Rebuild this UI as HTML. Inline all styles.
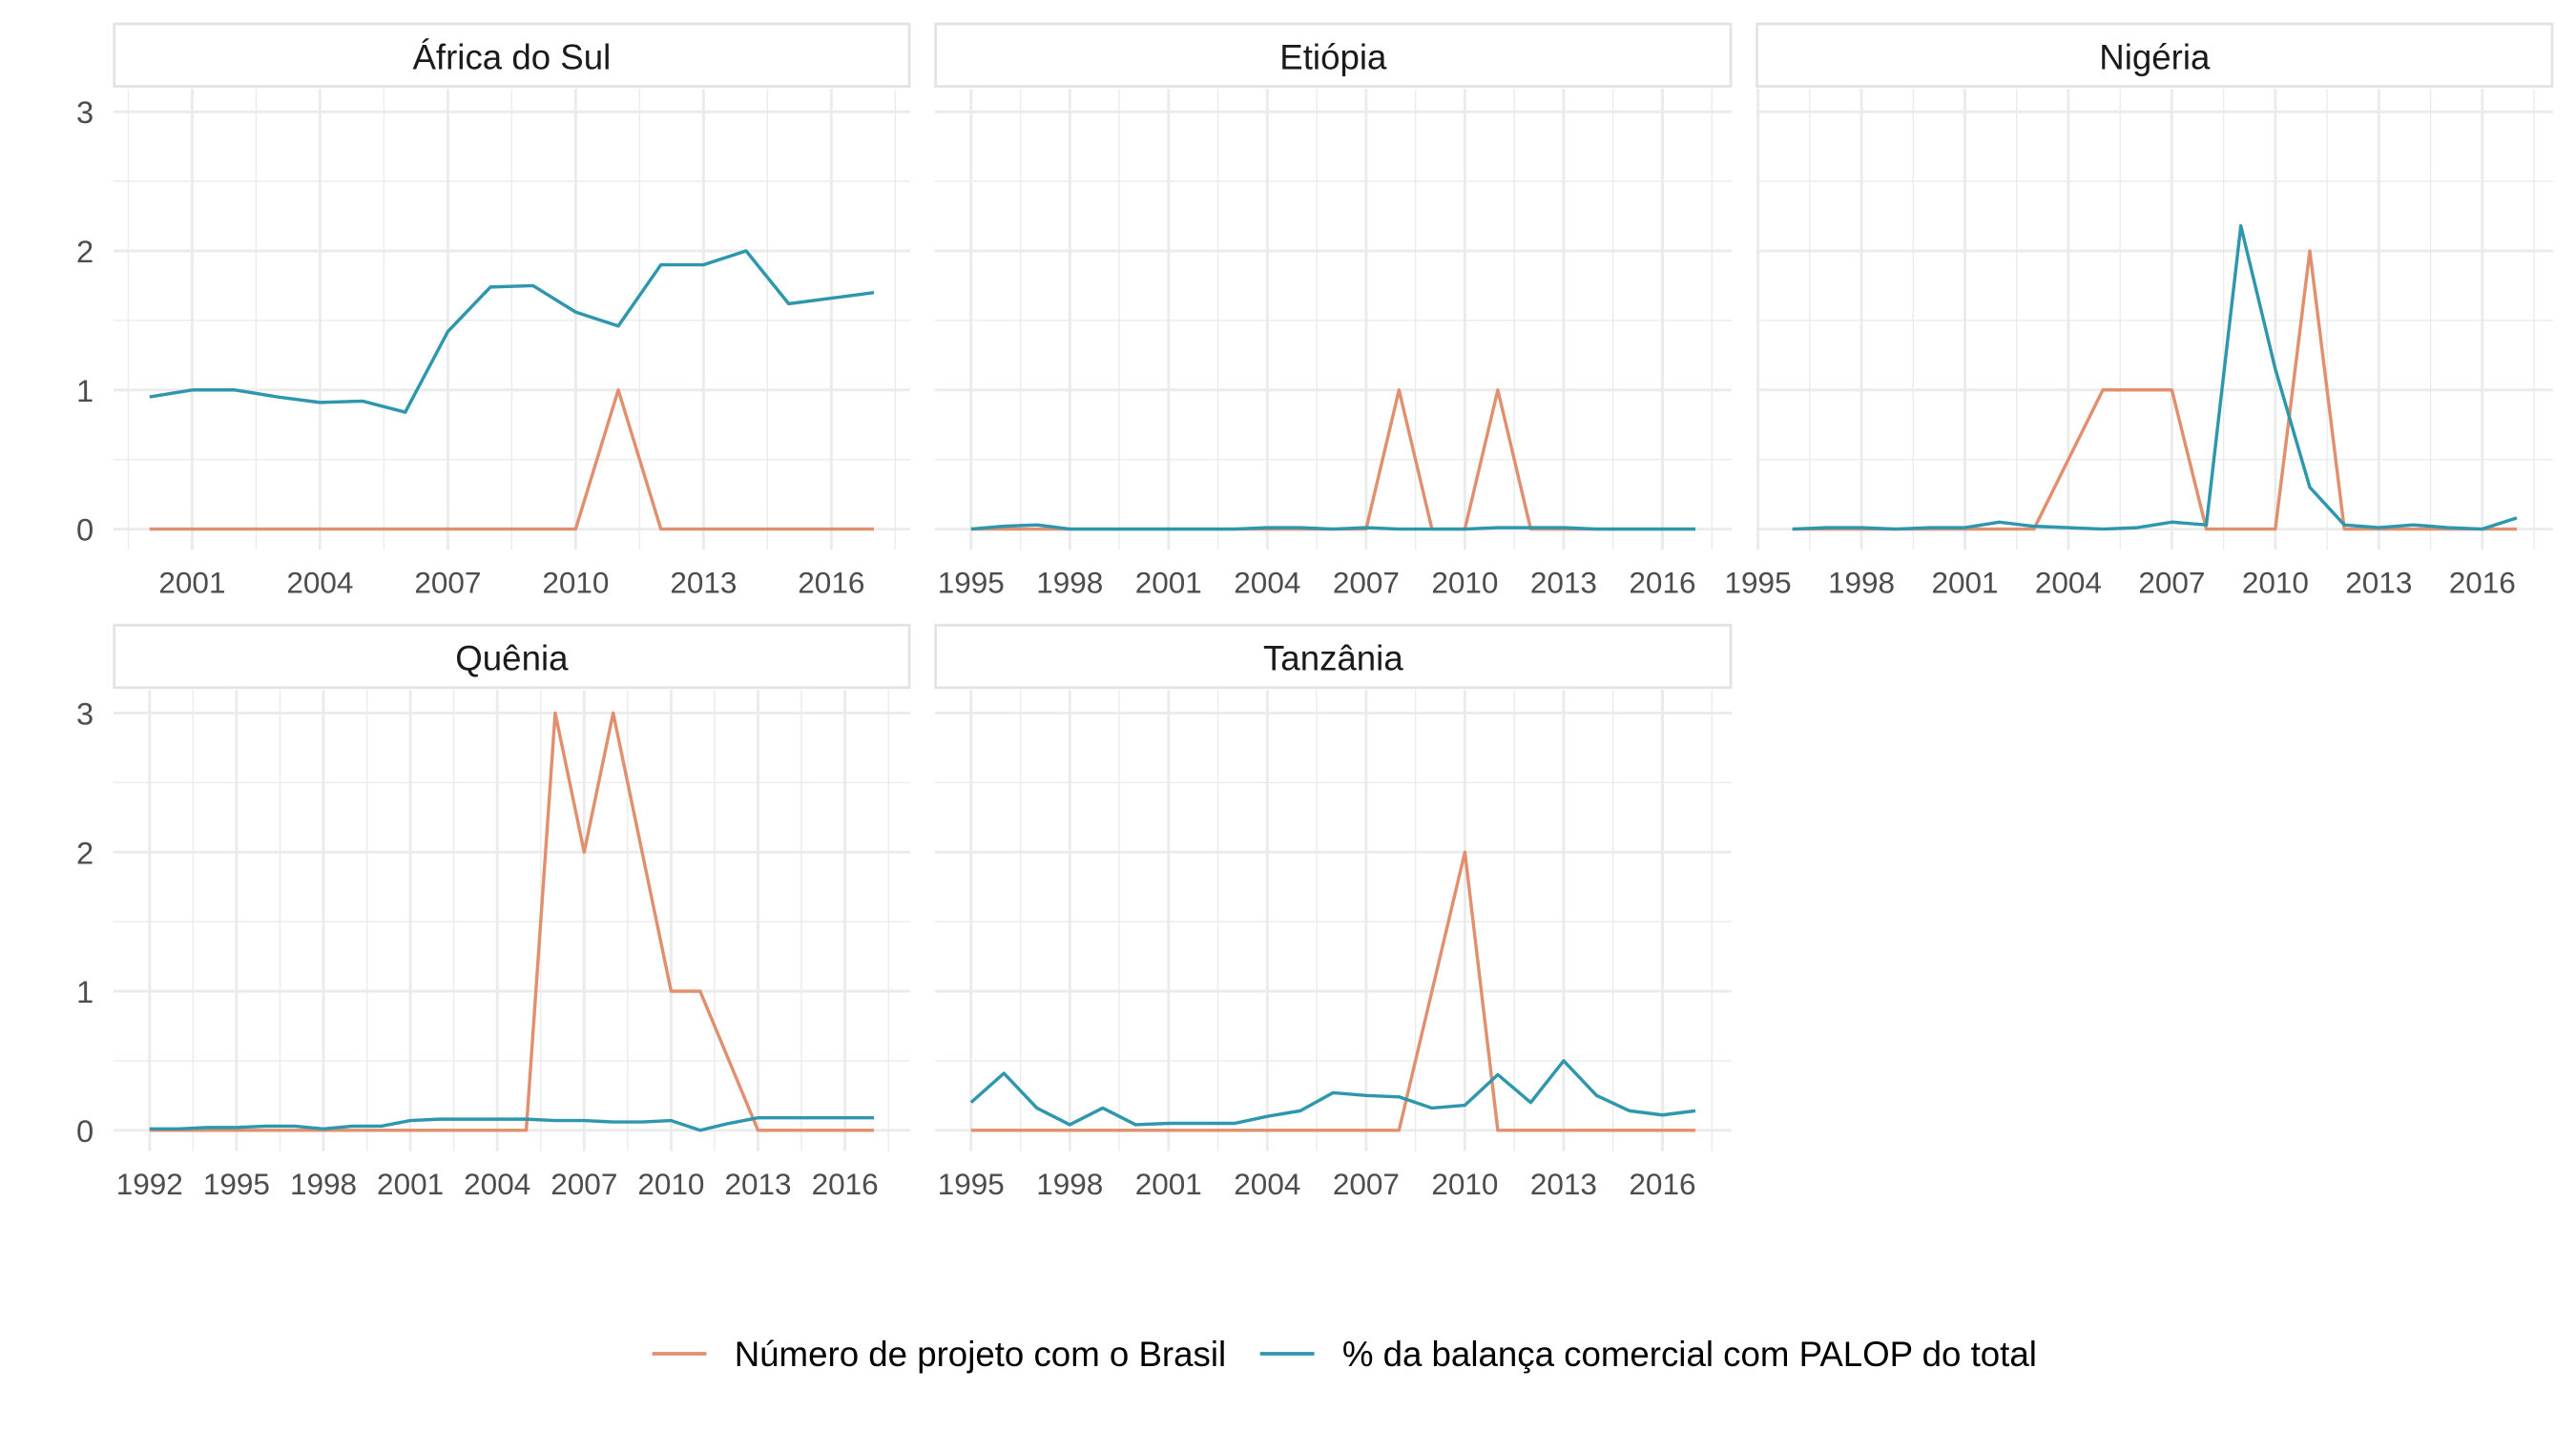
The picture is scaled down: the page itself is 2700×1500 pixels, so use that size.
<!DOCTYPE html>
<html><head><meta charset="utf-8"><style>
html,body{margin:0;padding:0;background:#fff;}
svg{display:block;font-family:"Liberation Sans",Arial,sans-serif;}
</style></head><body>
<svg id="chart" width="2700" height="1500" viewBox="0 0 1568 871" xmlns="http://www.w3.org/2000/svg">
<g id="panels"></g>
<g>
<line x1="397" y1="824" x2="430" y2="824" stroke="#E0906F" stroke-width="2.2"/>
<text x="447" y="831.5" font-size="21.3" fill="#000">Número de projeto com o Brasil</text>
<line x1="767" y1="824" x2="800" y2="824" stroke="#2E97AD" stroke-width="2.2"/>
<text x="817" y="831.5" font-size="21.3" fill="#000">% da balança comercial com PALOP do total</text>
</g>
</svg>
<script>
// ---- data ----
const countries = ["África do Sul","Etiópia","Nigéria","Quênia","Tanzânia"];
const startYears = [2000,1995,1996,1992,1995];
const endYear = 2017;
const xBreaks0 = [2001,2004,2007,2010,2013,2016];
const xBreaks1 = [1995,1998,2001,2004,2007,2010,2013,2016];
const xBreaks3 = [1992,1995,1998,2001,2004,2007,2010,2013,2016];
const yTicks = [0,1,2,3];
const projAfrica = [0,0,0,0,0,0,0,0,0,0,0,1,0,0,0,0,0,0];
const tradeAfrica = [0.95,1.0,1.0,0.95,0.91,0.92,0.84,1.42,1.74,1.75,1.56,1.46,1.9,1.9,2.0,1.62,1.66,1.7];
const projEtiopia = [0,0,0,0,0,0,0,0,0,0,0,0,0,1,0,0,1,0,0,0,0,0,0];
const tradeEtiopia = [0,0.02,0.03,0,0,0,0,0,0,0.01,0.01,0,0.01,0,0,0,0.01,0.01,0.01,0,0,0,0];
const projNigeria = [0,0,0,0,0,0,0,0,0.5,1,1,1,0,0,0,2,0,0,0,0,0,0];
const tradeNigeria = [0,0.01,0.01,0,0.01,0.01,0.05,0.02,0.01,0,0.01,0.05,0.03,2.18,1.15,0.3,0.03,0.01,0.03,0.01,0,0.08];
const projQuenia = [0,0,0,0,0,0,0,0,0,0,0,0,0,0,3,2,3,2,1,1,0.5,0,0,0,0,0];
const tradeQuenia = [0.01,0.01,0.02,0.02,0.03,0.03,0.01,0.03,0.03,0.07,0.08,0.08,0.08,0.08,0.07,0.07,0.06,0.06,0.07,0,0.05,0.09,0.09,0.09,0.09,0.09];
const projTanzania = [0,0,0,0,0,0,0,0,0,0,0,0,0,0,1,2,0,0,0,0,0,0,0];
const tradeTanzania = [0.2,0.41,0.16,0.04,0.16,0.04,0.05,0.05,0.05,0.1,0.14,0.27,0.25,0.24,0.16,0.18,0.4,0.2,0.5,0.25,0.14,0.11,0.14];

const projSeries = [projAfrica,projEtiopia,projNigeria,projQuenia,projTanzania];
const tradeSeries = [tradeAfrica,tradeEtiopia,tradeNigeria,tradeQuenia,tradeTanzania];
const breaks = [xBreaks0,xBreaks1,xBreaks1,xBreaks3,xBreaks1];

const NS = "http://www.w3.org/2000/svg";
const root = document.getElementById("panels");
function mk(tag, attrs, parent){const e=document.createElementNS(NS,tag);for(const k in attrs)e.setAttribute(k,attrs[k]);parent.appendChild(e);return e;}

const panelX = [69,569,1069,69,569];
const panelTop = [14,14,14,380,380];
const PW = 485, STRIP = 39;

countries.forEach((name,i)=>{
  const g = mk("g",{},root);
  
  
  const x0=panelX[i], top=panelTop[i];
  const y3=top+54, y0=top+308, unit=(y0-y3)/3;
  const py0=top+STRIP+1, py1=y0+0.15*unit;
  const s=startYears[i], lo=s-(endYear-s)*0.05, hi=endYear+(endYear-s)*0.05;
  const xs = v => x0+(v-lo)/(hi-lo)*PW;
  const ys = v => y0-v*unit;
  [0.5,1.5,2.5].forEach(v=>{
    const l=mk("line",{x1:x0,x2:x0+PW,y1:ys(v),y2:ys(v),stroke:"#EBEBEB","stroke-width":0.8},g);
    
    
  });
  const br=breaks[i];
  const step=br[1]-br[0];
  for(let v=br[0]-step/2; v<=hi; v+=step){ if(v<lo) continue;
    const l=mk("line",{x1:xs(v),x2:xs(v),y1:py0,y2:py1,stroke:"#EBEBEB","stroke-width":0.8},g);
    
    
  }
  yTicks.forEach(v=>{
    const l=mk("line",{x1:x0,x2:x0+PW,y1:ys(v),y2:ys(v),stroke:"#EBEBEB","stroke-width":1.7},g);
    
    
    if(i===0||i===3){
      const t=mk("text",{x:57,y:ys(v)+7,"text-anchor":"end","font-size":19,fill:"#4D4D4D"},g);
      t.textContent=v;
      
      
    }
  });
  br.forEach(v=>{
    const l=mk("line",{x1:xs(v),x2:xs(v),y1:py0,y2:py1,stroke:"#EBEBEB","stroke-width":1.7},g);
    
    
    const t=mk("text",{x:xs(v),y:y0+39,"text-anchor":"middle","font-size":18.3,fill:"#4D4D4D"},g);
    t.textContent=v;
    
    
  });
  const r=mk("rect",{x:x0+0.5,y:top+0.5,width:PW-1,height:STRIP-1,fill:"#fff",stroke:"#E3E3E3","stroke-width":1.6},g);
  
  
  const st=mk("text",{x:x0+PW/2,y:top+28,"text-anchor":"middle","font-size":21.3,fill:"#1A1A1A"},g);
  st.textContent=name;
  
  
  const pp=projSeries[i].map((v,k)=>xs(s+k).toFixed(2)+","+ys(v).toFixed(2)).join(" ");
  const l1=mk("polyline",{points:pp,fill:"none",stroke:"#E0906F","stroke-width":2,"stroke-linejoin":"round"},g);
  
  
  const tp=tradeSeries[i].map((v,k)=>xs(s+k).toFixed(2)+","+ys(v).toFixed(2)).join(" ");
  const l2=mk("polyline",{points:tp,fill:"none",stroke:"#2E97AD","stroke-width":2,"stroke-linejoin":"round"},g);
  
  
});
</script>
</body></html>
